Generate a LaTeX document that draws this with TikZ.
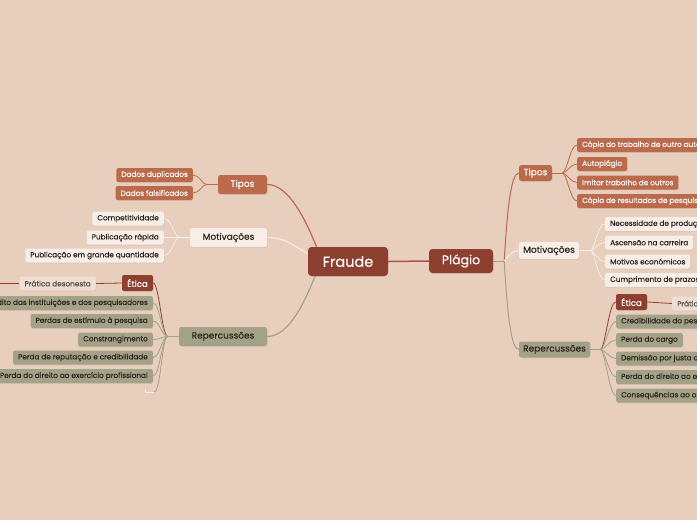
\documentclass[tikz,border=0pt]{standalone}
\usepackage{fontspec}
\setmainfont{Poppins}
\newfontfamily\pmed{Poppins}[FakeBold=0.25]
\usetikzlibrary{calc,shadows}
\definecolor{bgc}{RGB}{232,206,189}
\definecolor{frc}{RGB}{142,64,48}
\definecolor{fpl}{RGB}{168,86,66}
\definecolor{tpc}{RGB}{187,106,76}
\definecolor{mvc}{RGB}{247,238,231}
\definecolor{mvl}{RGB}{246,236,228}
\definecolor{rpc}{RGB}{164,162,134}
\definecolor{prc}{RGB}{238,223,212}
\definecolor{prt}{RGB}{90,76,68}
\definecolor{dkt}{RGB}{45,36,32}
\pgfdeclarelayer{bgl}
\pgfdeclarelayer{edges}
\pgfsetlayers{bgl,edges,main}
\tikzset{
  shd/.style={drop shadow={shadow xshift=0.5pt,shadow yshift=-0.8pt,opacity=0.15}},
  mainbox/.style={shd,fill=frc,text=white,rounded corners=3.5pt,inner sep=0pt,font=\pmed\fontsize{14.5}{16}\selectfont},
  brbox/.style={shd,rounded corners=2.5pt,inner sep=0pt,font=\pmed\fontsize{9}{10}\selectfont},
  leaf/.style={shd,rounded corners=2pt,inner xsep=5pt,inner ysep=0pt,minimum height=14pt,font=\pmed\fontsize{7.3}{8}\selectfont},
  tipo/.style={fill=tpc,text=white},
  motiv/.style={fill=mvc,text=dkt},
  rep/.style={fill=rpc,text=dkt},
  etica/.style={shd,fill=frc,text=white,rounded corners=2pt,inner sep=0pt,font=\pmed\fontsize{8.5}{9}\selectfont},
  prat/.style={fill=prc,text=prt},
  tline/.style={draw=tpc,line width=0.8pt},
  mline/.style={draw=mvl,line width=0.8pt},
  rline/.style={draw=rpc,line width=0.8pt},
  eline/.style={draw=frc,line width=0.8pt},
}
\begin{document}
\begin{tikzpicture}[x=1pt,y=-1pt]
\useasboundingbox (0,0) rectangle (697,520);
\begin{pgfonlayer}{bgl}
\fill[bgc] (0,0) rectangle (697,520);
\end{pgfonlayer}

% central nodes
\node[mainbox,minimum width=80pt,minimum height=29pt] (fraude) at (348,261.5) {Fraude};
\node[mainbox,minimum width=64pt,minimum height=24pt,font=\pmed\fontsize{12.5}{14}\selectfont] (plagio) at (461,261) {Plágio};

% left branches
\node[brbox,tipo,minimum width=49pt,minimum height=19pt] (tipol) at (242.5,184.5) {Tipos};
\node[brbox,motiv,minimum width=77pt,minimum height=19pt] (motl) at (228.5,237.5) {Motivações};
\node[brbox,rep,minimum width=88pt,minimum height=19pt] (repl) at (223,336.5) {Repercussões};

\node[leaf,tipo,anchor=east] (dd) at (193,175) {Dados duplicados};
\node[leaf,tipo,anchor=east] (df) at (193,193) {Dados falsificados};

\node[leaf,motiv,anchor=east] (comp) at (164,218.5) {Competitividade};
\node[leaf,motiv,anchor=east] (pubr) at (164,237.5) {Publicação rápida};
\node[leaf,motiv,anchor=east] (pubg) at (164,255.5) {Publicação em grande quantidade};

\node[etica,minimum width=31pt,minimum height=16pt] (eticl) at (137.5,283) {Ética};
\node[leaf,prat,anchor=east] (pratl) at (96,283.5) {Prática desonesta};
\node[leaf,rep,anchor=east] (cred) at (153,303) {Crédito das instituições e dos pesquisadores};
\node[leaf,rep,anchor=east] (perde) at (153,321) {Perdas de estímulo à pesquisa};
\node[leaf,rep,anchor=east] (const) at (153,339.5) {Constrangimento};
\node[leaf,rep,anchor=east] (perdr) at (153,357.5) {Perda de reputação e credibilidade};
\node[leaf,rep,anchor=east] (perdd) at (153,376) {Perda do direito ao exercício profissional};
\coordinate (stub) at (154,392);
\coordinate (pratlend) at (-10,283.5);

% right branches
\node[brbox,tipo,minimum width=33pt,minimum height=16pt] (tipor) at (535.5,173) {Tipos};
\node[brbox,motiv,minimum width=60pt,minimum height=17pt] (motr) at (549,250.5) {Motivações};
\node[brbox,rep,minimum width=71pt,minimum height=16pt] (repr) at (554.5,349.5) {Repercussões};

\node[leaf,tipo,anchor=west] (cta) at (577,145) {Cópia do trabalho de outro autor};
\node[leaf,tipo,anchor=west] (auto) at (577,164) {Autoplágio};
\node[leaf,tipo,anchor=west] (imit) at (577,182.5) {Imitar trabalho de outros};
\node[leaf,tipo,anchor=west] (crp) at (577,201) {Cópia de resultados de pesquisa};

\node[leaf,motiv,anchor=west] (nec) at (605,224) {Necessidade de produção};
\node[leaf,motiv,anchor=west] (asc) at (605,242.5) {Ascensão na carreira};
\node[leaf,motiv,anchor=west] (mot) at (605,261.5) {Motivos económicos};
\node[leaf,motiv,anchor=west] (cump) at (605,280) {Cumprimento de prazos};

\node[etica,minimum width=31pt,minimum height=16pt] (eticr) at (631.5,302) {Ética};
\node[leaf,prat,anchor=west] (pratr) at (672,303.5) {Prática desonesta};
\node[leaf,rep,anchor=west] (credr) at (616,321.5) {Credibilidade do pesquisador};
\node[leaf,rep,anchor=west] (cargo) at (616,340) {Perda do cargo};
\node[leaf,rep,anchor=west] (dem) at (616,358.5) {Demissão por justa causa};
\node[leaf,rep,anchor=west] (pdr) at (616,377) {Perda do direito ao exercício profissional};
\node[leaf,rep,anchor=west] (cons) at (616,395.5) {Consequências ao orientador};

\begin{pgfonlayer}{edges}
% central link
\draw[draw=fpl,line width=1.5pt] (fraude.east) -- (plagio.west);
% Fraude to left branches
\draw[draw=tpc,line width=1.2pt] (tipol.east) .. controls +(22,0) and +(-10,-25) .. (fraude.155);
\draw[draw=mvl,line width=1.2pt] (motl.east) .. controls +(20,0) and +(-12,-6) .. (fraude.169);
\draw[draw=rpc,line width=1.2pt] (repl.east) .. controls +(22,0) and +(-10,25) .. (fraude.204);
% junctions
\coordinate (jtl) at ($(tipol.west)+(-11,0)$);
\coordinate (jml) at ($(motl.west)+(-10,0)$);
\coordinate (jrl) at ($(repl.west)+(-11,0)$);
\coordinate (jp) at ($(plagio.east)+(11,0)$);
\coordinate (jtr) at ($(tipor.east)+(10,0)$);
\coordinate (jmr) at ($(motr.east)+(11,0)$);
\coordinate (jrr) at ($(repr.east)+(10,0)$);
% left tipos
\draw[tline] (tipol.west) -- (jtl);
\draw[tline] (jtl) .. controls +(-5,0) and +(7,0) .. (dd.east);
\draw[tline] (jtl) .. controls +(-5,0) and +(7,0) .. (df.east);
% left motivacoes
\draw[mline] (motl.west) -- (jml);
\draw[mline] (jml) .. controls +(-6,0) and +(8,0) .. (comp.east);
\draw[mline] (jml) -- (pubr.east);
\draw[mline] (jml) .. controls +(-6,0) and +(8,0) .. (pubg.east);
% left repercussoes
\draw[rline] (repl.west) -- (jrl);
\draw[eline] (jrl) .. controls +(-6,0) and +(6,0) .. (eticl.east);
\draw[rline] (jrl) .. controls +(-6,0) and +(7,0) .. (cred.east);
\draw[rline] (jrl) .. controls +(-6,0) and +(7,0) .. (perde.east);
\draw[rline] (jrl) .. controls +(-6,0) and +(7,0) .. (const.east);
\draw[rline] (jrl) .. controls +(-6,0) and +(7,0) .. (perdr.east);
\draw[rline] (jrl) .. controls +(-6,0) and +(7,0) .. (perdd.east);
\draw[rline] (jrl) .. controls +(-6,0) and +(7,0) .. (stub);
\draw[draw=mvl,line width=0.6pt] (stub) -- ++(-9,0) -- ++(0,-3);
\draw[eline] (eticl.west) -- (pratl.east);
\draw[eline] (pratl.west) -- (pratlend);
% Plagio to right branches
\draw[draw=rpc,line width=1pt] (plagio.east) -- (jp);
\draw[draw=tpc,line width=1pt] (jp) .. controls +(3,-50) and +(-8,0) .. (tipor.west);
\draw[draw=mvl,line width=1pt] (jp) .. controls +(4,-5) and +(-7,0) .. (motr.west);
\draw[draw=rpc,line width=1pt] (jp) .. controls +(3,50) and +(-8,0) .. (repr.west);
% right tipos
\draw[tline] (tipor.east) -- (jtr);
\draw[tline] (jtr) .. controls +(5,0) and +(-7,0) .. (cta.west);
\draw[tline] (jtr) .. controls +(5,0) and +(-7,0) .. (auto.west);
\draw[tline] (jtr) .. controls +(5,0) and +(-7,0) .. (imit.west);
\draw[tline] (jtr) .. controls +(5,0) and +(-7,0) .. (crp.west);
% right motivacoes
\draw[mline] (motr.east) -- (jmr);
\draw[mline] (jmr) .. controls +(5,0) and +(-8,0) .. (nec.west);
\draw[mline] (jmr) .. controls +(5,0) and +(-8,0) .. (asc.west);
\draw[mline] (jmr) .. controls +(5,0) and +(-8,0) .. (mot.west);
\draw[mline] (jmr) .. controls +(5,0) and +(-8,0) .. (cump.west);
% right repercussoes
\draw[rline] (repr.east) -- (jrr);
\draw[eline] (jrr) .. controls +(5,0) and +(-7,0) .. (eticr.west);
\draw[rline] (jrr) .. controls +(5,0) and +(-7,0) .. (credr.west);
\draw[rline] (jrr) .. controls +(5,0) and +(-7,0) .. (cargo.west);
\draw[rline] (jrr) .. controls +(5,0) and +(-7,0) .. (dem.west);
\draw[rline] (jrr) .. controls +(5,0) and +(-7,0) .. (pdr.west);
\draw[rline] (jrr) .. controls +(5,0) and +(-7,0) .. (cons.west);
\draw[eline] (eticr.east) -- (pratr.west);
\end{pgfonlayer}
\end{tikzpicture}
\end{document}
